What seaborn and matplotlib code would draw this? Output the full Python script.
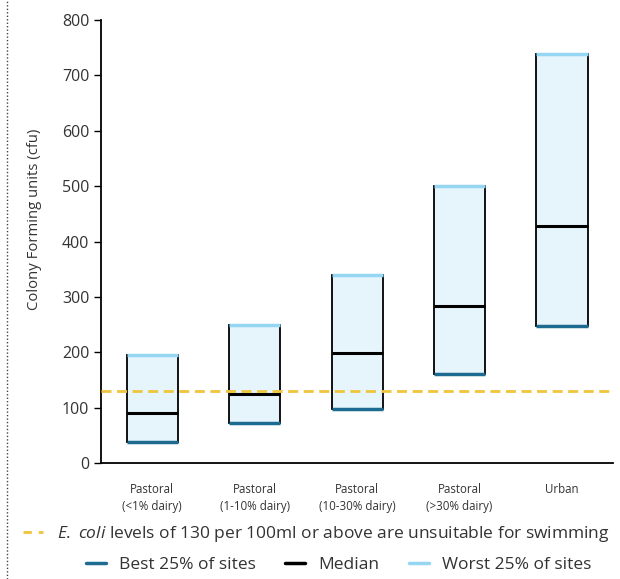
import matplotlib
matplotlib.use("Agg")
import matplotlib.pyplot as plt
import seaborn as sns
import numpy as np
import pandas as pd
from matplotlib.lines import Line2D

categories = ["Pastoral\n(<1% dairy)", "Pastoral\n(1-10% dairy)", "Pastoral\n(10-30% dairy)",
              "Pastoral\n(>30% dairy)", "Urban"]
best25 = [38, 72, 97, 161, 247]
median = [90, 125, 199, 283, 428]
worst25 = [196, 249, 340, 500, 738]
threshold = 130
yticks = [0, 100, 200, 300, 400, 500, 600, 700, 800]

sns.set_theme(style="white")
plt.rcParams['font.family'] = ['Open Sans', 'DejaVu Sans']
plt.rcParams['mathtext.fontset'] = 'custom'
plt.rcParams['mathtext.rm'] = 'Open Sans'
plt.rcParams['mathtext.it'] = 'Open Sans:italic'

c_fill = "#e6f4fc"
c_best = "#1d6b90"
c_worst = "#95d6f2"
c_thr = "#f0c53c"
c_text = "#333333"

df = pd.DataFrame({"cat": categories, "best": best25, "med": median, "worst": worst25})
df["height"] = df["worst"] - df["best"]

fig = plt.figure(figsize=(6.2, 5.79), dpi=100)
ax = fig.add_axes([0.163, 0.2, 0.826, 0.7655])

sns.barplot(data=df, x="cat", y="height", bottom=df["best"], width=0.5, color=c_fill,
            edgecolor="black", linewidth=1.3, saturation=1, ax=ax, zorder=2)

xs = np.arange(len(categories))
hw = 0.25
ax.hlines(df["best"], xs - hw, xs + hw, color=c_best, lw=2.5, zorder=3)
ax.hlines(df["worst"], xs - hw, xs + hw, color=c_worst, lw=2.5, zorder=3)
ax.hlines(df["med"], xs - hw, xs + hw, color="black", lw=2.2, zorder=3)
ax.axhline(threshold, color=c_thr, lw=2, ls=(0, (3.6, 2.0)), zorder=4)

ax.set_xlim(-0.5, len(categories) - 0.5)
ax.set_ylim(0, 800)
ax.set_yticks(yticks)
ax.tick_params(axis="y", labelsize=11.5, colors="black", labelcolor=c_text, length=5, width=1, direction="out", left=True)
ax.tick_params(axis="x", labelsize=8.3, labelcolor=c_text, length=0, pad=14)
for lab in ax.get_xticklabels():
    lab.set_linespacing(1.45)
ax.set_xlabel("")
ax.set_ylabel("Colony Forming units (cfu)", fontsize=10.7, color=c_text)
ax.yaxis.set_label_coords(-0.116, 0.55)
sns.despine(ax=ax)
for s in ["left", "bottom"]:
    ax.spines[s].set_color("black")
    ax.spines[s].set_linewidth(1.3)

# legends
h1 = [Line2D([], [], color=c_thr, lw=2, ls=(0, (3.0, 2.5)))]
leg1 = fig.legend(h1, [r"$\mathit{E.}$ $\mathit{coli}$ levels of 130 per 100ml or above are unsuitable for swimming"],
                  loc="center", bbox_to_anchor=(0.51, 0.078), frameon=False, fontsize=12.5,
                  handlelength=1.15, handletextpad=0.8, labelcolor=c_text)
h2 = [Line2D([], [], color=c_best, lw=2.5), Line2D([], [], color="black", lw=2.5),
      Line2D([], [], color=c_worst, lw=2.5)]
leg2 = fig.legend(h2, ["Best 25% of sites", "Median", "Worst 25% of sites"],
                  loc="center", bbox_to_anchor=(0.546, 0.024), frameon=False, fontsize=12.5, ncol=3,
                  handlelength=1.15, handletextpad=0.75, columnspacing=1.7, labelcolor=c_text)

fig.add_artist(Line2D([0.011, 0.011], [0, 1], transform=fig.transFigure, color="#444444",
                      lw=1, ls=(0, (1, 1.5))))

fig.savefig("out.png", dpi=100)
